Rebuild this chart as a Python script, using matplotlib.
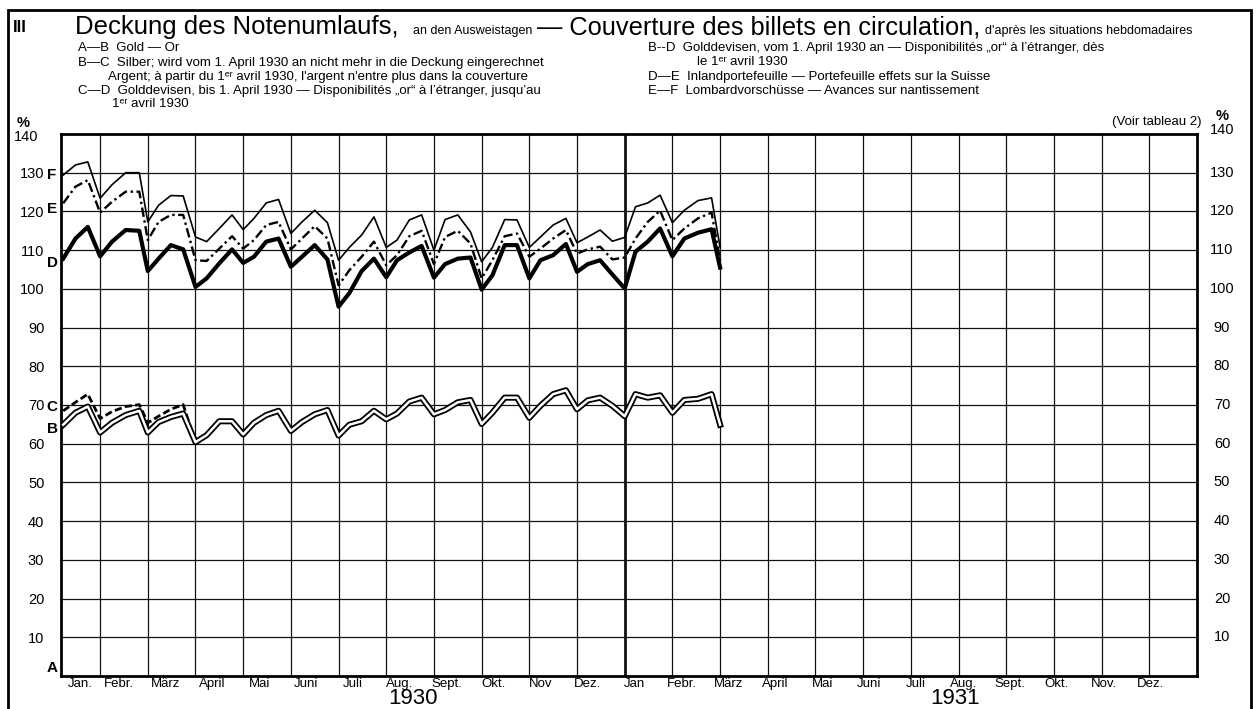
import numpy as np
import matplotlib
matplotlib.use('Agg')
import matplotlib.pyplot as plt
from matplotlib.patches import Rectangle
import matplotlib.transforms as mtransforms

plt.rcParams['font.family'] = ['Liberation Sans', 'DejaVu Sans']

# weekly returns (7th, 15th, 23rd, last day), Jan 1930 - Feb 1931
month_len = [31, 28, 31, 30, 31, 30, 31, 31, 30, 31, 30, 31, 31, 28]
return_days = [7, 15, 23]

# E-F  Lombardvorschüsse (top of the pile)
F = [129.4, 132.0, 132.8, 123.4, 126.9, 130.0, 130.0, 117.3,
     121.6, 124.1, 124.0, 113.4, 112.2, 115.6, 119.1, 115.3,
     118.2, 122.2, 123.1, 114.3, 117.3, 120.3, 117.1, 107.4,
     110.7, 113.9, 118.6, 110.7, 112.6, 117.8, 119.1, 110.0,
     117.9, 119.1, 114.7, 107.0, 110.7, 117.9, 117.8, 110.7,
     113.4, 116.5, 118.2, 111.9, 113.4, 115.2, 112.3, 113.3,
     121.2, 122.2, 124.2, 117.1, 120.3, 122.8, 123.5, 110.7]
# D-E  Inlandportefeuille
E = [122.1, 126.4, 128.1, 119.7, 122.5, 125.1, 125.1, 112.6,
     117.3, 119.1, 119.1, 107.4, 107.2, 110.4, 113.6, 110.4,
     112.6, 116.5, 117.3, 110.2, 113.0, 116.2, 113.0, 100.9,
     104.8, 108.3, 112.2, 106.1, 108.7, 113.6, 115.0, 106.4,
     113.4, 115.0, 111.7, 102.7, 107.4, 113.6, 114.3, 108.3,
     110.4, 113.0, 115.2, 109.1, 110.2, 110.9, 107.6, 108.1,
     113.0, 117.3, 120.2, 112.6, 115.6, 118.2, 119.7, 107.4]
# C-D / B-D  Golddevisen
D = [107.8, 113.0, 116.0, 108.4, 112.2, 115.2, 115.0, 104.6,
     107.8, 111.3, 110.2, 100.5, 102.7, 106.6, 110.2, 106.7,
     108.3, 112.2, 113.0, 105.7, 108.3, 111.3, 107.6, 95.4,
     98.9, 104.6, 107.8, 103.0, 107.4, 109.4, 111.1, 102.9,
     106.4, 107.8, 108.1, 99.8, 103.5, 111.3, 111.3, 102.7,
     107.4, 108.7, 111.6, 104.4, 106.4, 107.4, 103.7, 100.1,
     109.6, 112.2, 115.6, 108.4, 113.0, 114.5, 115.4, 105.5]
# B-C  Silber, only until 1 April 1930
C = [68.5, 70.7, 72.8, 66.5, 68.3, 69.6, 70.1, 65.4,
     67.1, 68.9, 70.1, 60.4]
# A-B  Gold
B = [64.9, 68.0, 69.6, 62.9, 65.4, 67.4, 68.5, 62.9,
     65.6, 66.9, 67.8, 60.4, 62.2, 65.8, 65.8, 62.4,
     65.4, 67.4, 68.5, 63.3, 65.6, 67.6, 68.7, 62.1,
     64.9, 65.8, 68.5, 66.3, 67.8, 70.9, 71.9, 67.6,
     68.7, 70.7, 71.3, 65.1, 68.0, 71.9, 71.9, 66.7,
     69.8, 72.8, 73.8, 68.9, 71.2, 71.9, 69.8, 67.1,
     72.8, 71.9, 72.5, 68.0, 71.3, 71.6, 72.8, 64.9]

months = ['Jan.', 'Febr.', 'März', 'April', 'Mai', 'Juni', 'Juli', 'Aug.', 'Sept.', 'Okt.', 'Nov', 'Dez.',
          'Jan', 'Febr.', 'März', 'April', 'Mai', 'Juni', 'Juli', 'Aug.', 'Sept.', 'Okt.', 'Nov.', 'Dez.']
yticks = list(range(10, 140, 10))

x = []
for k, nd in enumerate(month_len):
    for d in return_days + [nd]:
        x.append(k + d / nd)
x = np.array(x)

W, H = 1259, 709
def fx(px):
    return px / W
def fy(py):
    return 1 - py / H

fig = plt.figure(figsize=(W / 100, H / 100), dpi=100)
ax = fig.add_axes([fx(61), fy(676), fx(1197) - fx(61), fy(134) - fy(676)])
ax.set_xlim(0.18, 24)
ax.set_ylim(0, 140)

# grid
for v in yticks:
    ax.axhline(v, color='#111111', lw=0.9, zorder=1)
for m in range(1, 24):
    ax.axvline(m, color='#111111', lw=2.0 if m == 12 else 0.9, zorder=1)
for s in ax.spines.values():
    s.set_linewidth(2.0)

# series
ax.plot(x, F, color='black', lw=1.2, zorder=3)
ax.plot(x, E, color='black', lw=1.7, dashes=[4, 1.5, 1, 1.5], zorder=3)
ax.plot(x, D, color='black', lw=3.0, zorder=3)
ax.plot(x[:len(C)], C, color='black', lw=2.0, dashes=[2.6, 1.2], zorder=3)
ax.plot(x, B, color='black', lw=4.4, zorder=4)
ax.plot(x, B, color='white', lw=1.8, zorder=5)

# axis labels
ax.set_xticks([])
ax.set_yticks(yticks)
ax.set_yticklabels([str(v) for v in yticks], fontsize=10.5)
ax.tick_params(axis='y', length=0, pad=12)
trans_r = mtransforms.blended_transform_factory(fig.transFigure, ax.transData)
for v in yticks:
    fig.text(fx(1222), v, str(v), transform=trans_r, ha='center', va='center', fontsize=10.5)
fig.text(fx(23), fy(123), '%', ha='center', va='center', fontsize=10.5, weight='bold')
fig.text(fx(26), fy(137), '140', ha='center', va='center', fontsize=10.5)
fig.text(fx(1222), fy(116), '%', ha='center', va='center', fontsize=10.5, weight='bold')
fig.text(fx(1222), fy(130), '140', ha='center', va='center', fontsize=10.5)

# series letters
trans_l = mtransforms.blended_transform_factory(fig.transFigure, ax.transData)
for lab, val in [('F', F[0]), ('E', E[0] - 1.5), ('D', D[0] - 1), ('C', C[0] + 1), ('B', B[0] - 1), ('A', 2)]:
    fig.text(fx(52), val, lab, transform=trans_l, ha='center', va='center',
             fontsize=11, weight='bold')

# month and year labels
trans_b = mtransforms.blended_transform_factory(ax.transData, fig.transFigure)
for i, name in enumerate(months):
    pos = (0.18 + 1) / 2 if i == 0 else i + 0.4 - 0.016 * i
    fig.text(pos, fy(684), name, transform=trans_b, ha='center', va='center', fontsize=9.5)
fig.text(fx(413), fy(699), '1930', ha='center', va='center', fontsize=16)
fig.text(fx(955), fy(699), '1931', ha='center', va='center', fontsize=16)

# heading
fig.text(fx(20), fy(28), 'III', ha='center', va='center', fontsize=12, weight='bold')
fig.text(fx(75), fy(34), 'Deckung des Notenumlaufs,', fontsize=18.5, va='baseline')
fig.text(fx(413), fy(34), 'an den Ausweistagen', fontsize=9, va='baseline')
fig.text(fx(537), fy(34), '— Couverture des billets en circulation,', fontsize=18.3, va='baseline')
fig.text(fx(985), fy(34), "d'après les situations hebdomadaires", fontsize=9, va='baseline')

legend_left = [
    (78, 51, 'A—B  Gold — Or'),
    (78, 66, 'B—C  Silber; wird vom 1. April 1930 an nicht mehr in die Deckung eingerechnet'),
    (108, 80, "Argent; à partir du 1ᵉʳ avril 1930, l'argent n'entre plus dans la couverture"),
    (78, 94, 'C—D  Golddevisen, bis 1. April 1930 — Disponibilités „or“ à l’étranger, jusqu’au'),
    (112, 107, '1ᵉʳ avril 1930'),
]
legend_right = [
    (648, 51, 'B--D  Golddevisen, vom 1. April 1930 an — Disponibilités „or“ à l’étranger, dès'),
    (697, 65, 'le 1ᵉʳ avril 1930'),
    (648, 80, 'D—E  Inlandportefeuille — Portefeuille effets sur la Suisse'),
    (648, 94, 'E—F  Lombardvorschüsse — Avances sur nantissement'),
]
for px, py, txt in legend_left + legend_right:
    fig.text(fx(px), fy(py), txt, fontsize=9.5, va='baseline')
fig.text(fx(1202), fy(125), '(Voir tableau 2)', fontsize=9.5, ha='right', va='baseline')

# outer frame
fig.add_artist(Rectangle((fx(8), -0.01), fx(1251) - fx(8), fy(10) + 0.01,
                         transform=fig.transFigure, fill=False, lw=2, color='black'))

fig.savefig('out.png', dpi=100)
